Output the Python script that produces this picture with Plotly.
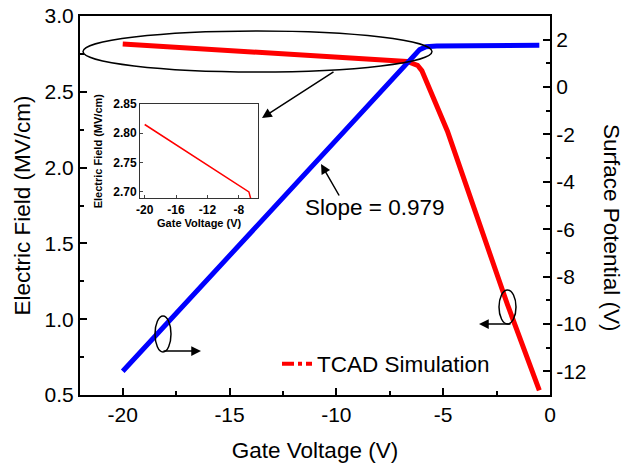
import plotly.graph_objects as go

# ---- data ----
vg_field = [-20.0, -6.7, -6.5, -6.2, -6.0, -4.8, -2.0, -0.5]
e_field = [2.815, 2.700, 2.690, 2.675, 2.640, 2.240, 1.100, 0.530]

vg_pot = [-20.0, -6.4, -6.1, -5.8, -5.3, -0.5]
surf_pot = [-12.0, 1.30, 1.58, 1.70, 1.73, 1.77]

x_ticks = [-20, -15, -10, -5, 0]
y1_ticks = [0.5, 1.0, 1.5, 2.0, 2.5, 3.0]
y2_ticks = [-12, -10, -8, -6, -4, -2, 0, 2]
inset_x_ticks = [-20, -16, -12, -8]
inset_y_ticks = [2.70, 2.75, 2.80, 2.85]

W, H = 625, 470
L, R, T, B = 80, 75, 16, 75
PW, PH = W - L - R, H - T - B


def px(x):
    return (x - L) / PW


def py(y):
    return (H - B - y) / PH


def hyph(v):
    return str(v)


FONT = "Liberation Sans, Arial, sans-serif"
RED = "#ff0000"
BLUE = "#0000ff"

fig = go.Figure()
fig.add_trace(go.Scatter(x=vg_field, y=e_field, mode="lines",
                         line=dict(color=RED, width=5), showlegend=False,
                         xaxis="x", yaxis="y"))
fig.add_trace(go.Scatter(x=vg_pot, y=surf_pot, mode="lines",
                         line=dict(color=BLUE, width=5), showlegend=False,
                         xaxis="x", yaxis="y2"))
# legend entry
fig.add_trace(go.Scatter(x=[None], y=[None], mode="lines", name="TCAD Simulation",
                         line=dict(color=RED, width=4, dash="dashdot"),
                         showlegend=True, xaxis="x", yaxis="y"))
# inset
fig.add_trace(go.Scatter(x=vg_field, y=e_field, mode="lines",
                         line=dict(color=RED, width=1.5), showlegend=False,
                         xaxis="x3", yaxis="y3"))

axis_common = dict(showgrid=False, zeroline=False, showline=True, linecolor="black",
                   linewidth=2, ticks="inside", ticklen=7, tickwidth=1.5, automargin=False,
                   tickcolor="black", tickfont=dict(family=FONT, size=21, color="black"))

fig.update_layout(
    width=W, height=H,
    margin=dict(l=L, r=R, t=T, b=B, autoexpand=False),
    paper_bgcolor="white", plot_bgcolor="white",
    font=dict(family=FONT, color="black"),
    xaxis=dict(**axis_common, range=[-22, 0], tickvals=x_ticks,
               ticktext=[hyph(v) for v in x_ticks], mirror=True,
               minor=dict(ticks="inside", ticklen=4, tickwidth=1.5, dtick=2.5, tickcolor="black"),
               title=dict(text="Gate Voltage (V)", font=dict(size=22.5), standoff=17),
               domain=[0, 1]),
    yaxis=dict(**axis_common, range=[0.5, 3.0], tickvals=y1_ticks,
               ticktext=["%.1f" % v for v in y1_ticks],
               minor=dict(ticks="inside", ticklen=4, tickwidth=1.5, dtick=0.25, tickcolor="black"),
               title=dict(text="Electric Field (MV/cm)", font=dict(size=22.5), standoff=8)),
    yaxis2=dict(**axis_common, range=[-13, 3], tickvals=y2_ticks,
                ticktext=[hyph(v) for v in y2_ticks], overlaying="y", side="right",
                minor=dict(ticks="inside", ticklen=4, tickwidth=1.5, dtick=1, tickcolor="black")),
    xaxis3=dict(domain=[px(140), px(258.3)], anchor="y3", range=[-20.6, -5.5],
                tickvals=inset_x_ticks, ticktext=[hyph(v) for v in inset_x_ticks],
                showgrid=False, zeroline=False, showline=True, automargin=False,
                mirror=True, linecolor="#333", linewidth=1, ticks="inside", ticklen=3,
                tickfont=dict(family=FONT, size=12, color="black", weight="bold"),
                title=dict(text="Gate Voltage (V)", standoff=2,
                           font=dict(family=FONT, size=11, weight="bold"))),
    yaxis3=dict(domain=[py(198.3), py(104)], anchor="x3", range=[2.689, 2.85],
                tickvals=inset_y_ticks, ticktext=["%.2f" % v for v in inset_y_ticks],
                showgrid=False, zeroline=False, automargin=False,
                showline=True, mirror=True, linecolor="#333", linewidth=1, ticks="inside",
                ticklen=3, tickfont=dict(family=FONT, size=12, color="black", weight="bold"),
                title=dict(text="Electric Field (MV/cm)", standoff=8,
                           font=dict(family=FONT, size=11, weight="bold"))),
    legend=dict(x=px(277), y=py(364), xanchor="left", yanchor="middle",
                bgcolor="rgba(0,0,0,0)", font=dict(family=FONT, size=22.5, color="black")),
)

# right axis title (reads top-to-bottom)
fig.add_annotation(x=px(612), y=py(228), xref="paper", yref="paper",
                   xanchor="center", yanchor="middle",
                   text="Surface Potential (V)", textangle=90, showarrow=False,
                   font=dict(family=FONT, size=22.5, color="black"))

# ellipses
ellipses = [(83, 31, 432, 72), (155, 316, 171, 352), (499, 290, 516, 324)]
for x0, y0, x1, y1 in ellipses:
    fig.add_shape(type="circle", xref="paper", yref="paper",
                  x0=px(x0), x1=px(x1), y0=py(y1), y1=py(y0),
                  line=dict(color="black", width=1.5))

# arrows: (head_x, head_y, tail_x, tail_y)
arrows = [(262, 118, 335, 71), (321, 164, 340, 197), (201, 351, 162, 351), (479, 324, 512, 324)]
for hx, hy, tx, ty in arrows:
    fig.add_annotation(x=px(hx), y=py(hy), xref="paper", yref="paper", text="",
                       showarrow=True, ax=tx - hx, ay=ty - hy, arrowhead=2,
                       arrowsize=1.3, arrowwidth=1.5, arrowcolor="black")

fig.add_annotation(x=px(375), y=py(207), xref="paper", yref="paper", text="Slope = 0.979",
                   xanchor="center", yanchor="middle",
                   showarrow=False, font=dict(family=FONT, size=22.5, color="black"))

fig.write_html("out.html")
